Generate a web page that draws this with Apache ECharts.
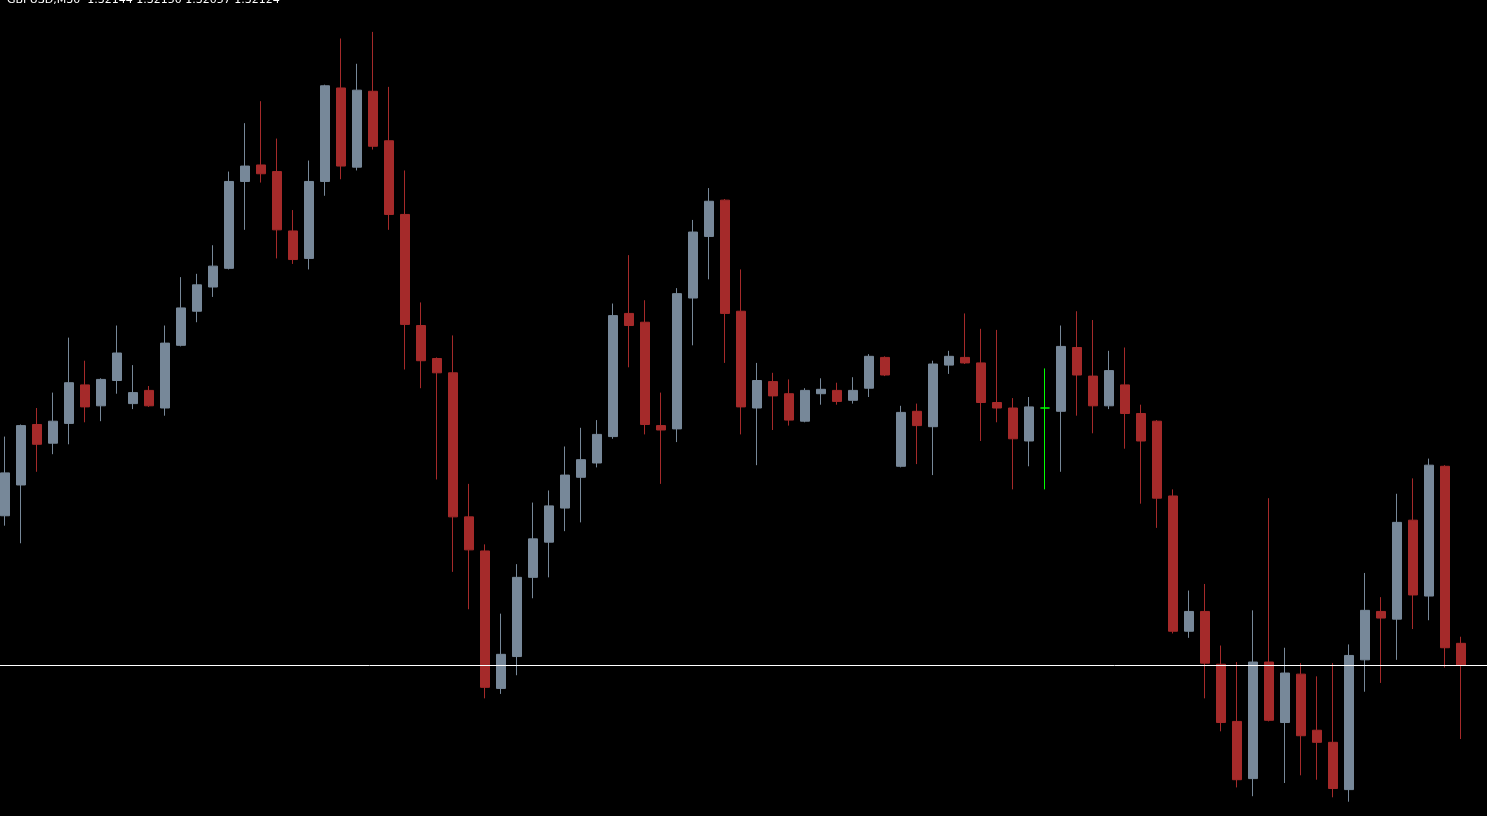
<!DOCTYPE html>
<html>
<head>
<meta charset="utf-8">
<title>GBPUSD M30</title>
<script src="https://cdn.jsdelivr.net/npm/echarts@6/dist/echarts.min.js"></script>
<style>
  html, body { margin: 0; padding: 0; background: #000; overflow: hidden; }
  /* shifted 3px left so the first candle sits on the window edge like the terminal */
  #chart { position: absolute; left: -3px; top: 0; width: 1490px; height: 816px; }
</style>
</head>
<body>
<div id="chart"></div>
<script>
// GBPUSD, M30 - prices
const symbolTitle = 'GBPUSD,M30  1.32144 1.32150 1.32057 1.32124'
const bidPrice = 1.32124

const opens = [
  1.32260, 1.32288, 1.32343, 1.32326, 1.32344, 1.32379, 1.32360, 1.32383, 1.32362, 1.32374,
  1.32358, 1.32415, 1.32446, 1.32468, 1.32485, 1.32564, 1.32579, 1.32573, 1.32519, 1.32494,
  1.32564, 1.32649, 1.32577, 1.32646, 1.32601, 1.32534, 1.32433, 1.32403, 1.32390, 1.32259,
  1.32228, 1.32103, 1.32132, 1.32204, 1.32236, 1.32267, 1.32295, 1.32308, 1.32332, 1.32444,
  1.32436, 1.32342, 1.32339, 1.32458, 1.32514, 1.32547, 1.32446, 1.32358, 1.32382, 1.32371,
  1.32346, 1.32371, 1.32374, 1.32365, 1.32376, 1.32404, 1.32305, 1.32355, 1.32341, 1.32397,
  1.32404, 1.32399, 1.32363, 1.32358, 1.32328, 1.32358, 1.32355, 1.32413, 1.32387, 1.32360,
  1.32379, 1.32353, 1.32346, 1.32278, 1.32155, 1.32173, 1.32125, 1.32073, 1.32021, 1.32127,
  1.32072, 1.32116, 1.32065, 1.32054, 1.32011, 1.32129, 1.32173, 1.32166, 1.32256, 1.32187,
  1.32305, 1.32144
]
const closes = [
  1.32299, 1.32342, 1.32325, 1.32346, 1.32381, 1.32359, 1.32384, 1.32408, 1.32372, 1.32360,
  1.32417, 1.32449, 1.32470, 1.32487, 1.32564, 1.32578, 1.32571, 1.32520, 1.32493, 1.32564,
  1.32651, 1.32578, 1.32647, 1.32596, 1.32534, 1.32434, 1.32401, 1.32390, 1.32259, 1.32229,
  1.32104, 1.32134, 1.32204, 1.32239, 1.32269, 1.32297, 1.32311, 1.32334, 1.32442, 1.32433,
  1.32343, 1.32338, 1.32462, 1.32518, 1.32546, 1.32444, 1.32359, 1.32383, 1.32369, 1.32347,
  1.32374, 1.32375, 1.32364, 1.32374, 1.32405, 1.32388, 1.32354, 1.32342, 1.32398, 1.32405,
  1.32399, 1.32363, 1.32358, 1.32330, 1.32359, 1.32358, 1.32414, 1.32388, 1.32360, 1.32392,
  1.32353, 1.32328, 1.32276, 1.32155, 1.32173, 1.32126, 1.32072, 1.32020, 1.32127, 1.32074,
  1.32117, 1.32060, 1.32054, 1.32012, 1.32133, 1.32174, 1.32167, 1.32254, 1.32188, 1.32306,
  1.32140, 1.32124
]
const lows = [
  1.32251, 1.32235, 1.32300, 1.32316, 1.32325, 1.32345, 1.32346, 1.32371, 1.32357, 1.32359,
  1.32351, 1.32414, 1.32436, 1.32459, 1.32484, 1.32520, 1.32563, 1.32494, 1.32489, 1.32484,
  1.32551, 1.32566, 1.32574, 1.32593, 1.32520, 1.32393, 1.32376, 1.32293, 1.32209, 1.32175,
  1.32094, 1.32098, 1.32115, 1.32185, 1.32204, 1.32246, 1.32254, 1.32304, 1.32330, 1.32395,
  1.32334, 1.32289, 1.32327, 1.32415, 1.32475, 1.32399, 1.32334, 1.32306, 1.32338, 1.32342,
  1.32345, 1.32361, 1.32361, 1.32362, 1.32368, 1.32387, 1.32304, 1.32307, 1.32297, 1.32389,
  1.32398, 1.32328, 1.32345, 1.32284, 1.32305, 1.32284, 1.32300, 1.32351, 1.32335, 1.32357,
  1.32321, 1.32271, 1.32249, 1.32153, 1.32149, 1.32094, 1.32064, 1.32013, 1.32005, 1.32073,
  1.32017, 1.32024, 1.32020, 1.32004, 1.32000, 1.32100, 1.32108, 1.32129, 1.32157, 1.32165,
  1.32122, 1.32057
]
const highs = [
  1.32332, 1.32343, 1.32358, 1.32372, 1.32422, 1.32401, 1.32385, 1.32433, 1.32397, 1.32378,
  1.32433, 1.32477, 1.32480, 1.32506, 1.32573, 1.32617, 1.32637, 1.32603, 1.32538, 1.32583,
  1.32652, 1.32694, 1.32671, 1.32700, 1.32650, 1.32574, 1.32454, 1.32404, 1.32424, 1.32289,
  1.32234, 1.32171, 1.32216, 1.32272, 1.32283, 1.32323, 1.32340, 1.32347, 1.32453, 1.32497,
  1.32456, 1.32372, 1.32467, 1.32529, 1.32558, 1.32548, 1.32484, 1.32399, 1.32390, 1.32384,
  1.32376, 1.32385, 1.32381, 1.32386, 1.32407, 1.32405, 1.32360, 1.32362, 1.32401, 1.32410,
  1.32444, 1.32430, 1.32429, 1.32367, 1.32368, 1.32394, 1.32433, 1.32446, 1.32438, 1.32410,
  1.32413, 1.32361, 1.32347, 1.32284, 1.32192, 1.32198, 1.32142, 1.32127, 1.32174, 1.32276,
  1.32140, 1.32126, 1.32114, 1.32126, 1.32143, 1.32208, 1.32186, 1.32280, 1.32294, 1.32312,
  1.32306, 1.32150
]

const priceMin = 1.31987
const priceMax = 1.32729

const bullColor = '#778899'
const bearColor = '#a52a2a'
const dojiColor = '#00ff00'

const categories = opens.map((_, i) => i)

const candles = opens.map((o, i) => {
  const item = { value: [o, closes[i], lows[i], highs[i]] }
  if (o === closes[i]) {
    item.itemStyle = { color: dojiColor, color0: dojiColor, borderColor: dojiColor, borderColor0: dojiColor }
  }
  return item
})

const chart = echarts.init(document.getElementById('chart'))

chart.setOption({
  backgroundColor: '#000000',
  animation: false,
  title: {
    text: symbolTitle,
    left: 10,
    top: -5,
    padding: 0,
    textStyle: {
      color: '#ffffff',
      fontFamily: 'DejaVu Sans',
      fontSize: 11,
      fontWeight: 'normal'
    }
  },
  grid: {
    left: 0,
    top: 0,
    width: 1472,
    height: 816,
    containLabel: false
  },
  xAxis: {
    type: 'category',
    data: categories,
    boundaryGap: true,
    show: false
  },
  yAxis: {
    type: 'value',
    min: priceMin,
    max: priceMax,
    show: false,
    splitLine: { show: false }
  },
  series: [{
    type: 'candlestick',
    data: candles,
    barWidth: 10,
    itemStyle: {
      color: bullColor,
      color0: bearColor,
      borderColor: bullColor,
      borderColor0: bearColor,
      borderColorDoji: dojiColor,
      borderWidth: 1
    },
    emphasis: { disabled: true }
  }]
})

// bid line across the whole window, placed through the price axis
const bidY = Math.round(chart.convertToPixel({ yAxisIndex: 0 }, bidPrice)) + 0.5
chart.setOption({
  graphic: [{
    type: 'line',
    silent: true,
    z: 10,
    shape: { x1: 0, y1: bidY, x2: 1490, y2: bidY },
    style: { stroke: '#ffffff', lineWidth: 1 }
  }]
})
</script>
</body>
</html>
